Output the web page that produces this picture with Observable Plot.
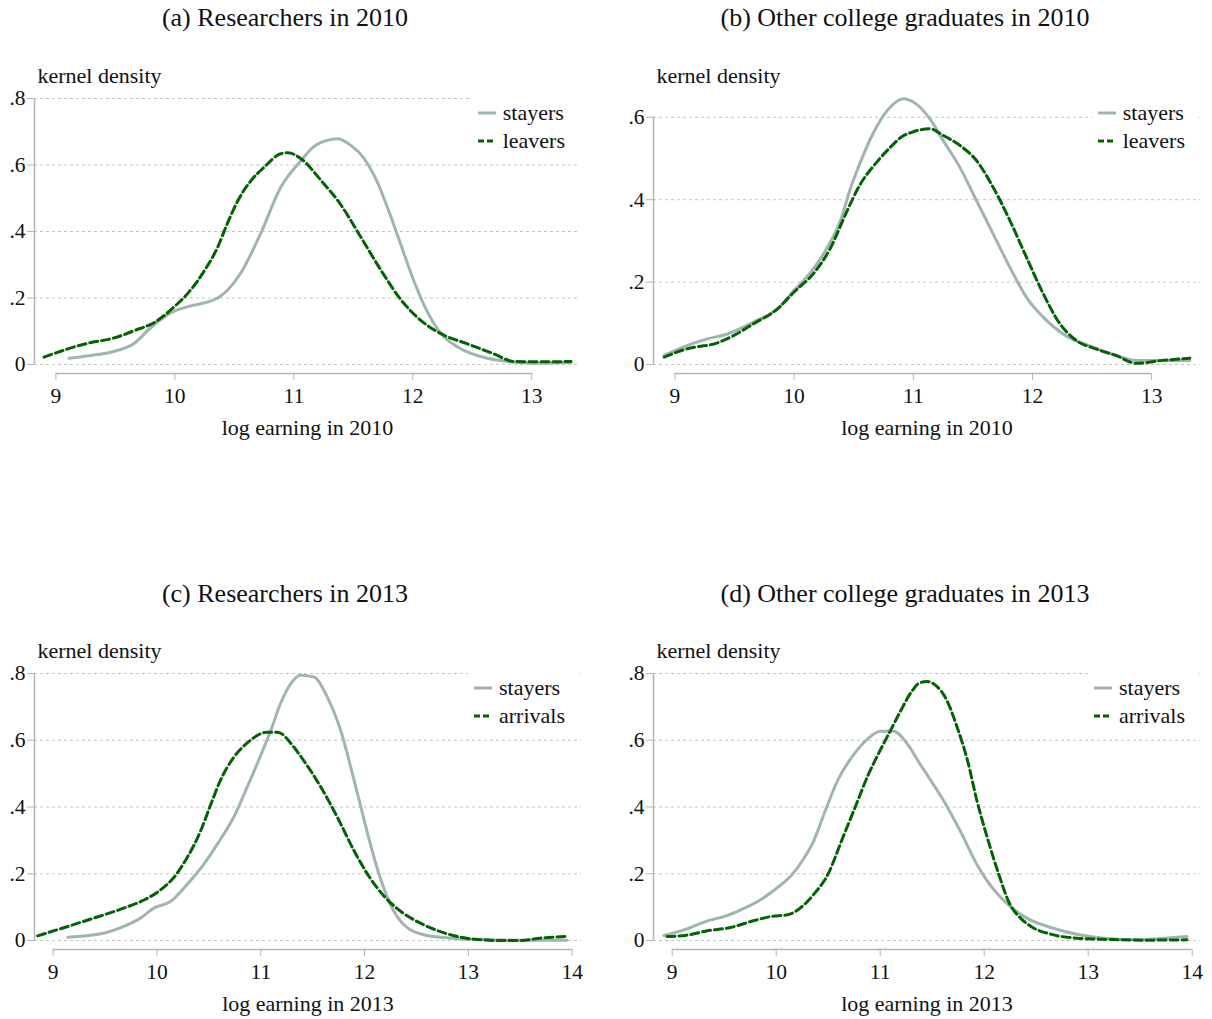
<!DOCTYPE html>
<html>
<head>
<meta charset="utf-8">
<script src="https://cdn.jsdelivr.net/npm/d3@7"></script>
<script src="https://cdn.jsdelivr.net/npm/@observablehq/plot@0.6"></script>
<style>
  body { margin: 0; background: #fff; font-family: "Liberation Serif", "DejaVu Serif", serif; color: #111; }
  #root { position: relative; width: 1212px; height: 1019px; overflow: hidden; }
  .panel { position: absolute; width: 606px; }
  .title { position: absolute; font-size: 26px; line-height: 30px; transform: translateX(-50%); white-space: nowrap; color: #111; }
  .legend { position: absolute; background: #fff; padding: 1px 12px 4px 6px; }
  .legend .row { height: 28px; display: flex; align-items: center; font-size: 22px; color: #111; }
  .legend svg { margin-right: 7px; }
</style>
</head>
<body>
<div id="root"></div>
<script>
// ---------------- data (log earning, kernel density) ----------------
const researchers2010Stayers = [[9.11,0.019],[9.29,0.027],[9.46,0.037],[9.66,0.064],[9.80,0.112],[9.99,0.160],[10.11,0.174],[10.36,0.200],[10.55,0.273],[10.72,0.393],[10.89,0.533],[11.06,0.613],[11.17,0.656],[11.28,0.674],[11.37,0.679],[11.48,0.659],[11.59,0.620],[11.70,0.550],[11.80,0.460],[11.90,0.360],[12.00,0.260],[12.10,0.175],[12.24,0.092],[12.38,0.052],[12.57,0.024],[12.80,0.009],[13.02,0.004],[13.33,0.006]];
const researchers2010Leavers = [[8.90,0.022],[9.10,0.047],[9.27,0.064],[9.49,0.080],[9.66,0.102],[9.83,0.127],[9.99,0.172],[10.13,0.223],[10.25,0.283],[10.36,0.353],[10.44,0.423],[10.53,0.493],[10.64,0.553],[10.75,0.593],[10.89,0.634],[10.95,0.637],[11.06,0.619],[11.23,0.553],[11.39,0.483],[11.56,0.385],[11.73,0.285],[11.90,0.195],[12.07,0.132],[12.24,0.092],[12.46,0.062],[12.68,0.032],[12.85,0.009],[13.02,0.008],[13.33,0.009]];
const graduates2010Stayers = [[8.91,0.022],[9.10,0.046],[9.27,0.062],[9.44,0.074],[9.66,0.103],[9.86,0.135],[10.00,0.180],[10.14,0.224],[10.28,0.285],[10.39,0.350],[10.47,0.425],[10.55,0.487],[10.67,0.565],[10.78,0.616],[10.92,0.645],[11.00,0.637],[11.14,0.596],[11.25,0.544],[11.39,0.479],[11.53,0.398],[11.67,0.317],[11.81,0.236],[11.95,0.163],[12.09,0.115],[12.28,0.070],[12.51,0.042],[12.70,0.022],[12.87,0.010],[13.09,0.010],[13.32,0.010]];
const graduates2010Leavers = [[8.91,0.018],[9.10,0.038],[9.35,0.052],[9.47,0.067],[9.66,0.099],[9.86,0.135],[10.00,0.176],[10.16,0.220],[10.30,0.280],[10.44,0.370],[10.55,0.435],[10.69,0.490],[10.80,0.525],[10.90,0.552],[11.00,0.565],[11.14,0.572],[11.25,0.556],[11.39,0.532],[11.53,0.495],[11.67,0.430],[11.81,0.350],[11.95,0.260],[12.09,0.172],[12.23,0.099],[12.37,0.058],[12.53,0.038],[12.70,0.022],[12.87,0.003],[13.09,0.010],[13.32,0.015]];
const researchers2013Stayers = [[9.14,0.010],[9.46,0.020],[9.68,0.042],[9.84,0.067],[9.97,0.097],[10.13,0.117],[10.29,0.168],[10.45,0.228],[10.58,0.288],[10.74,0.370],[10.87,0.460],[11.00,0.555],[11.10,0.632],[11.19,0.710],[11.29,0.770],[11.38,0.795],[11.51,0.790],[11.64,0.730],[11.77,0.629],[11.90,0.479],[11.99,0.368],[12.12,0.218],[12.25,0.107],[12.38,0.047],[12.57,0.017],[12.83,0.007],[13.15,0.003],[13.47,0.001],[13.95,0.001]];
const researchers2013Arrivals = [[8.85,0.014],[9.14,0.042],[9.39,0.067],[9.68,0.097],[9.88,0.122],[10.04,0.153],[10.16,0.188],[10.29,0.248],[10.42,0.328],[10.52,0.409],[10.61,0.479],[10.74,0.549],[10.87,0.592],[11.06,0.624],[11.16,0.624],[11.32,0.579],[11.38,0.554],[11.58,0.459],[11.74,0.368],[11.90,0.268],[12.03,0.198],[12.19,0.132],[12.35,0.087],[12.57,0.047],[12.83,0.017],[13.05,0.004],[13.31,0.000],[13.50,0.000],[13.69,0.007],[13.95,0.012]];
const graduates2013Stayers = [[8.92,0.015],[9.14,0.035],[9.34,0.059],[9.50,0.072],[9.66,0.092],[9.85,0.122],[10.01,0.158],[10.14,0.193],[10.27,0.248],[10.36,0.298],[10.46,0.379],[10.59,0.479],[10.75,0.559],[10.88,0.604],[11.00,0.627],[11.13,0.627],[11.27,0.585],[11.39,0.525],[11.45,0.497],[11.61,0.419],[11.77,0.328],[11.93,0.228],[12.09,0.153],[12.25,0.102],[12.41,0.067],[12.64,0.039],[12.89,0.019],[13.15,0.007],[13.47,0.002],[13.73,0.007],[13.95,0.012]];
const graduates2013Arrivals = [[8.95,0.012],[9.14,0.016],[9.34,0.029],[9.56,0.039],[9.78,0.059],[9.95,0.072],[10.11,0.077],[10.23,0.097],[10.36,0.138],[10.50,0.200],[10.63,0.300],[10.76,0.400],[10.89,0.500],[11.00,0.570],[11.10,0.630],[11.20,0.690],[11.30,0.745],[11.38,0.772],[11.45,0.776],[11.55,0.760],[11.64,0.720],[11.74,0.639],[11.84,0.539],[11.93,0.419],[12.03,0.308],[12.13,0.208],[12.25,0.107],[12.35,0.067],[12.45,0.042],[12.64,0.019],[12.89,0.007],[13.21,0.003],[13.53,0.001],[13.95,0.002]];

const panelTitles = ["(a) Researchers in 2010", "(b) Other college graduates in 2010", "(c) Researchers in 2013", "(d) Other college graduates in 2013"];
const xLabels = ["log earning in 2010", "log earning in 2010", "log earning in 2013", "log earning in 2013"];
const otherNames = ["leavers", "leavers", "arrivals", "arrivals"];
const stayersName = "stayers";
const yTitle = "kernel density";
const xTicks2010 = [9, 10, 11, 12, 13];
const xTicks2013 = [9, 10, 11, 12, 13, 14];
const yTicksFull = [0, 0.2, 0.4, 0.6, 0.8];
const yTicksShort = [0, 0.2, 0.4, 0.6];

// ---------------- styles ----------------
const STAYER_COLOR = "#a0b5ad";
const OTHER_COLOR = "#006400";
const DASH = "8,4";
const FONT = "Liberation Serif";

const fmtY = d => d === 0 ? "0" : d3.format(".1f")(d).replace(/^0/, "");

const panels = [
  {stayers: researchers2010Stayers, other: researchers2010Leavers, xDomain: [8.82, 13.41], xTicks: xTicks2010, yTicks: yTicksFull, yMax: 0.8,
   left: 0, top: 50, height: 410, marginLeft: 34, marginRight: 26, marginBottom: 87, legendRight: 29, titleX: 285, titleTop: 3},
  {stayers: graduates2010Stayers, other: graduates2010Leavers, xDomain: [8.82, 13.41], xTicks: xTicks2010, yTicks: yTicksShort, yMax: 0.6456,
   left: 606, top: 50, height: 410, marginLeft: 47, marginRight: 12, marginBottom: 87, legendRight: 15, titleX: 905, titleTop: 3},
  {stayers: researchers2013Stayers, other: researchers2013Arrivals, xDomain: [8.82, 14.09], xTicks: xTicks2013, yTicks: yTicksFull, yMax: 0.8,
   left: 0, top: 625, height: 394, marginLeft: 34, marginRight: 25, marginBottom: 70, legendRight: 29, titleX: 285, titleTop: 579},
  {stayers: graduates2013Stayers, other: graduates2013Arrivals, xDomain: [8.82, 14.08], xTicks: xTicks2013, yTicks: yTicksFull, yMax: 0.8,
   left: 606, top: 625, height: 394, marginLeft: 47, marginRight: 12, marginBottom: 70, legendRight: 15, titleX: 905, titleTop: 579}
];

const root = document.getElementById("root");

panels.forEach((p, i) => {
  const chart = Plot.plot({
    width: 606,
    height: p.height,
    marginLeft: p.marginLeft,
    marginRight: p.marginRight,
    marginTop: 48,
    marginBottom: p.marginBottom,
    style: {fontFamily: FONT, fontSize: "21px", background: "#fff", color: "#111"},
    x: {domain: p.xDomain},
    y: {domain: [0, p.yMax], insetBottom: 9},
    marks: [
      Plot.ruleY(p.yTicks, {stroke: "#c4c4c4", strokeWidth: 1, strokeDasharray: "3,3"}),
      Plot.ruleX([p.xDomain[0]], {y1: () => 0, y2: () => d3.max(p.yTicks), stroke: "#b4b4b4", strokeWidth: 1.5}),
      Plot.ruleY([0], {x1: () => p.xTicks[0], x2: () => p.xTicks[p.xTicks.length - 1], dy: 9, stroke: "#b4b4b4", strokeWidth: 1.5}),
      Plot.axisX(p.xTicks, {tickSize: 7, tickPadding: 7, stroke: "#b4b4b4", fill: "#111", fontSize: 21.5, label: null, tickFormat: d => String(d)}),
      Plot.axisY(p.yTicks, {tickSize: 7, tickPadding: 2, stroke: "#b4b4b4", fill: "#111", fontSize: 21.5, label: null, tickFormat: fmtY}),
      Plot.line(p.stayers, {x: d => d[0], y: d => d[1], stroke: STAYER_COLOR, strokeWidth: 3, curve: "monotone-x"}),
      Plot.line(p.other, {x: d => d[0], y: d => d[1], stroke: OTHER_COLOR, strokeWidth: 3, strokeDasharray: DASH, curve: "monotone-x"}),
      Plot.text([xLabels[i]], {text: d => d, frameAnchor: "bottom", dy: 61, fontSize: 22, fill: "#111"}),
      Plot.text([yTitle], {text: d => d, frameAnchor: "top-left", dx: 3, dy: -31, textAnchor: "start", fontSize: 22, fill: "#111"})
    ]
  });

  const panel = document.createElement("div");
  panel.className = "panel";
  panel.style.left = p.left + "px";
  panel.style.top = p.top + "px";
  panel.style.height = p.height + "px";
  panel.appendChild(chart);

  const legend = document.createElement("div");
  legend.className = "legend";
  legend.style.right = p.legendRight + "px";
  legend.style.top = "48px";
  const entries = [
    {name: stayersName, color: STAYER_COLOR, dash: null},
    {name: otherNames[i], color: OTHER_COLOR, dash: "6,3"}
  ];
  entries.forEach(e => {
    const row = document.createElement("div");
    row.className = "row";
    row.innerHTML = `<svg width="18" height="4"><line x1="0" x2="18" y1="2" y2="2" stroke="${e.color}" stroke-width="3" ${e.dash ? `stroke-dasharray="${e.dash}"` : ""}/></svg><span>${e.name}</span>`;
    legend.appendChild(row);
  });
  panel.appendChild(legend);
  root.appendChild(panel);

  const title = document.createElement("div");
  title.className = "title";
  title.style.left = p.titleX + "px";
  title.style.top = p.titleTop + "px";
  title.textContent = panelTitles[i];
  root.appendChild(title);
});
</script>
</body>
</html>
